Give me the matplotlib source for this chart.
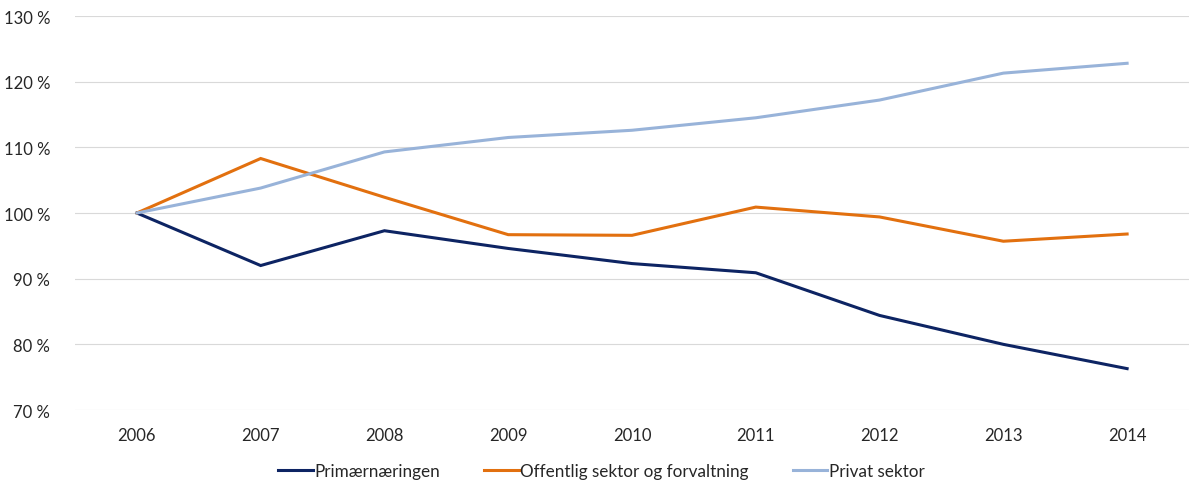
import matplotlib
matplotlib.use("Agg")
import matplotlib.pyplot as plt
from matplotlib.ticker import FuncFormatter

plt.rcParams['font.family'] = ['Lato', 'DejaVu Sans']

years = ['2006', '2007', '2008', '2009', '2010', '2011', '2012', '2013', '2014']
primaer = [100.0, 92.0, 97.3, 94.6, 92.3, 90.9, 84.4, 80.0, 76.3]
offentlig = [100.0, 108.3, 102.4, 96.7, 96.6, 100.9, 99.4, 95.7, 96.8]
privat = [100.0, 103.8, 109.3, 111.5, 112.6, 114.5, 117.2, 121.3, 122.8]
series_names = ['Primærnæringen', 'Offentlig sektor og forvaltning', 'Privat sektor']
colors = ['#0d2463', '#e2700f', '#98b3d9']

fig = plt.figure(figsize=(11.89, 4.81), dpi=100)
ax = fig.add_axes([75/1189, 1 - 411/481, 1 - 75/1189, (411 - 17)/481])

x = range(len(years))
for data, name, c in zip([primaer, offentlig, privat], series_names, colors):
    ax.plot(x, data, color=c, lw=2.2, label=name, solid_joinstyle='miter')

ax.set_xlim(-0.5, len(years) - 0.5)
ax.set_ylim(70, 130)
ax.set_yticks(range(70, 131, 10))
ax.yaxis.set_major_formatter(FuncFormatter(lambda v, p: f"{int(v)} %"))
ax.set_xticks(list(x))
ax.set_xticklabels(years)
ax.grid(axis='y', color='#d9d9d9', lw=0.8)
ax.set_axisbelow(True)
for s in ax.spines.values():
    s.set_visible(False)
ax.tick_params(axis='both', length=0, labelsize=12, colors='#262626')
ax.tick_params(axis='y', pad=18)
ax.tick_params(axis='x', pad=12)

leg = fig.legend(loc='lower center', bbox_to_anchor=(0.506, -0.03), ncol=3, frameon=False,
                 fontsize=12.3, handlelength=2.0, handletextpad=0.1, columnspacing=2.6)
for t in leg.get_texts():
    t.set_color('#262626')

fig.savefig('out.png', dpi=100)
